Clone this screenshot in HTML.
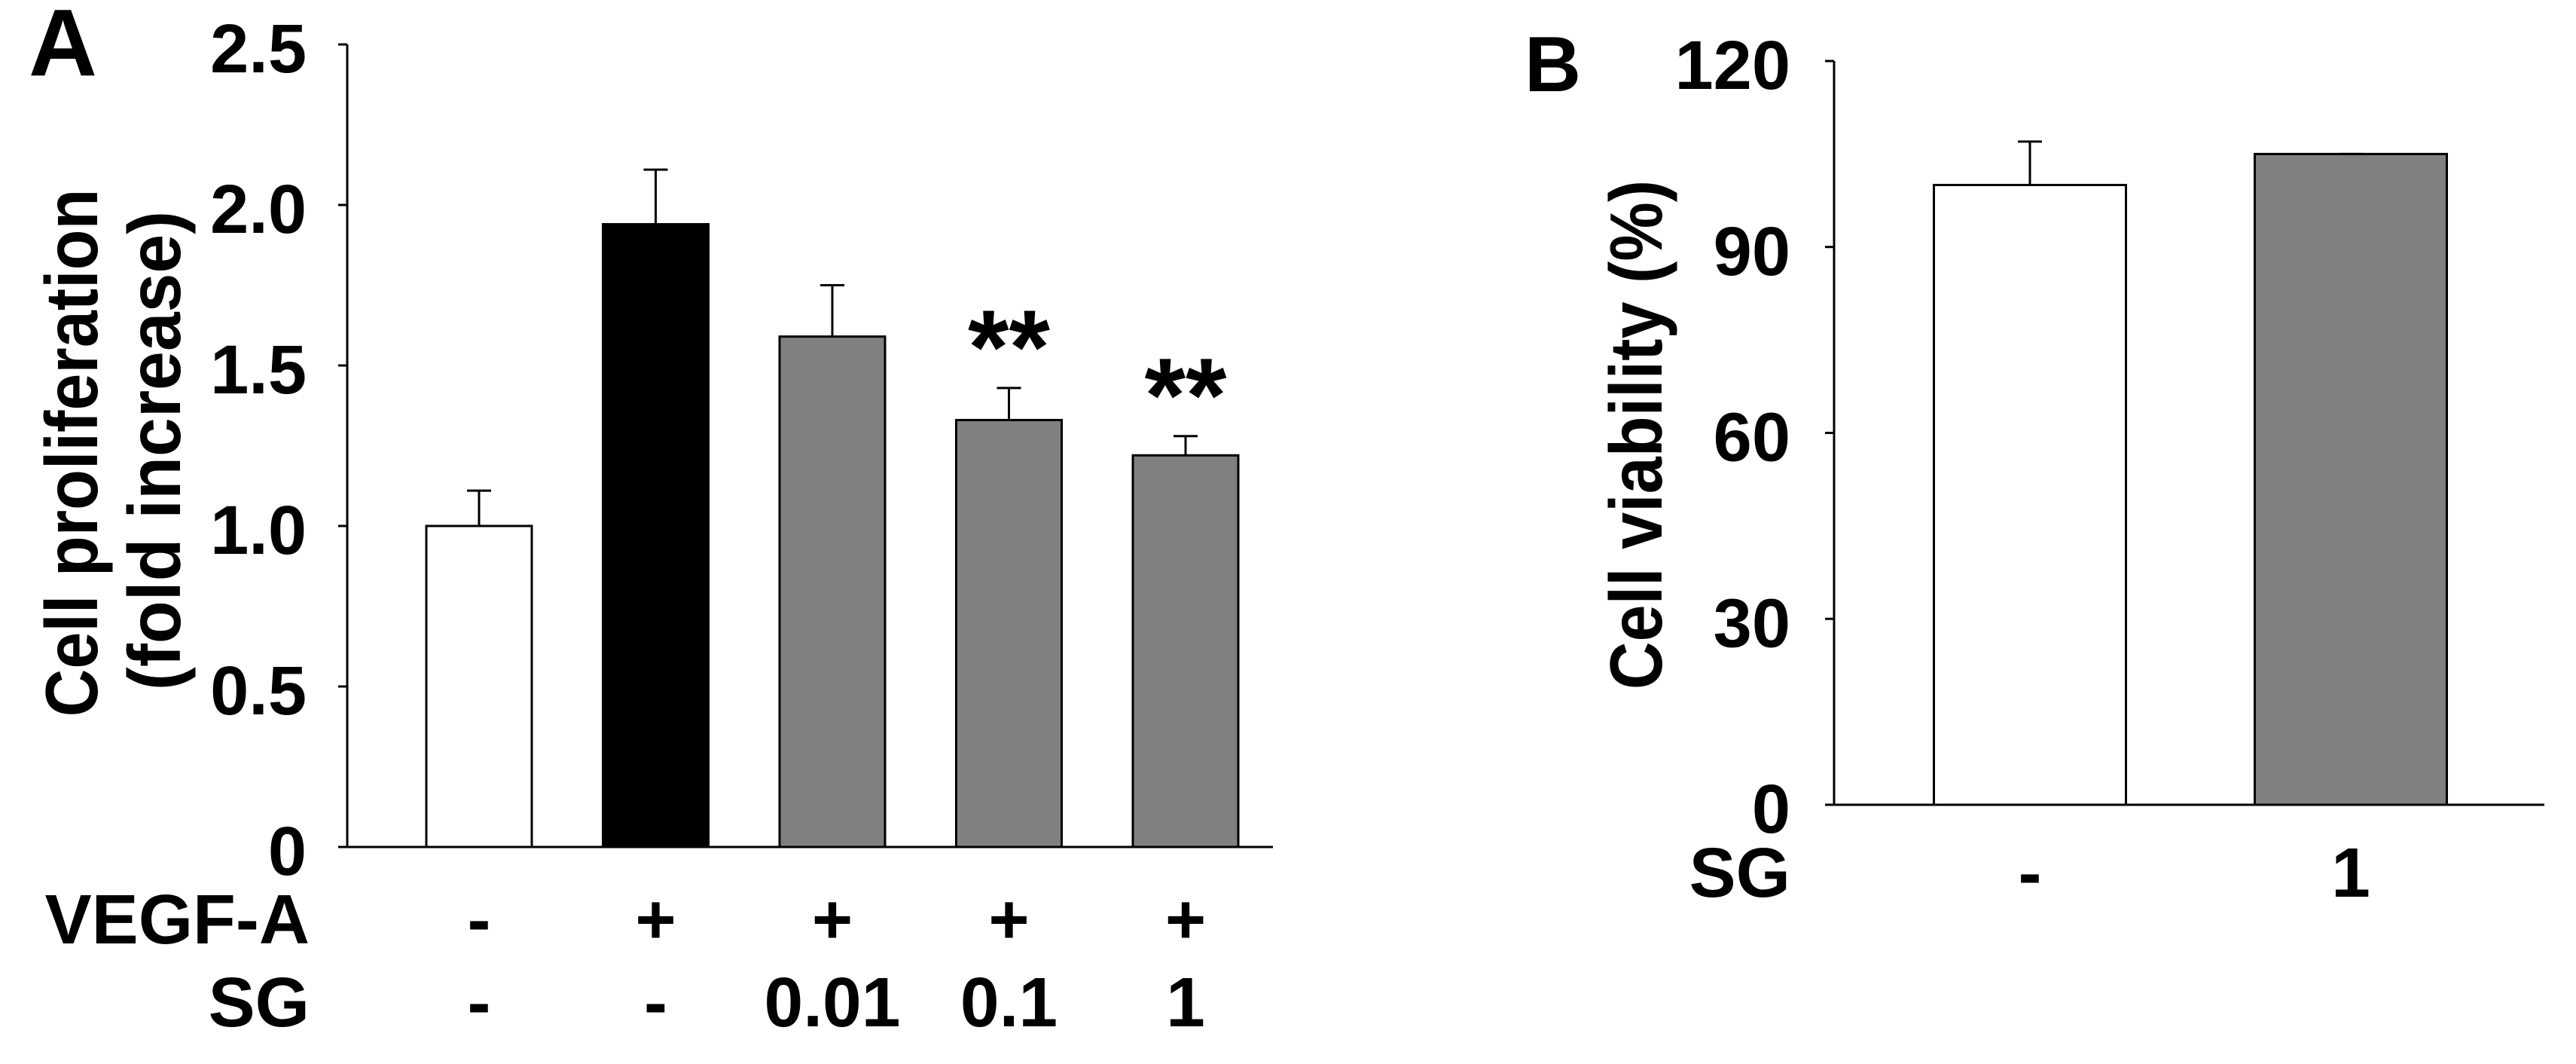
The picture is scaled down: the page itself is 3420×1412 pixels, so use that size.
<!DOCTYPE html>
<html><head><meta charset="utf-8"><style>
html,body{margin:0;padding:0;background:#fff}
svg{display:block;font-family:"Liberation Sans",Arial,sans-serif;font-weight:bold}
</style></head><body>
<svg id="fig" width="3420" height="1412" viewBox="0 0 3420 1412">
<text x="38" y="100" font-size="126">A</text>
<text x="2024" y="121" font-size="104">B</text>
<g>
<text transform="translate(129,601) rotate(-90) scale(0.9,1)" font-size="98" text-anchor="middle">Cell proliferation</text>
<text transform="translate(239,598) rotate(-90) scale(0.95,1)" font-size="98" text-anchor="middle">(fold increase)</text>
</g>
<text transform="translate(2206,577) rotate(-90) scale(0.9,1)" font-size="98" text-anchor="middle">Cell viability (%)</text>
<text x="411" y="1252" font-size="93" text-anchor="end">VEGF-A</text>
<text x="411" y="1362" font-size="93" text-anchor="end">SG</text>
<text x="2377" y="1190" font-size="93" text-anchor="end">SG</text>
<g id="ga"></g><g id="gb"></g>
</svg>
<script>
// Panel A data
const aValues = [1.0, 1.94, 1.59, 1.33, 1.22];
const aErrTop = [1.11, 2.11, 1.75, 1.43, 1.28];
const aFills = ["#ffffff", "#000000", "#808080", "#808080", "#808080"];
const aVegf = ["-", "+", "+", "+", "+"];
const aSg = ["-", "-", "0.01", "0.1", "1"];
const aStars = ["", "", "", "**", "**"];
const aTicks = [0, 0.5, 1.0, 1.5, 2.0, 2.5];
const aTickLabels = ["0", "0.5", "1.0", "1.5", "2.0", "2.5"];
// Panel B data
const bValues = [100, 105];
const bErrTop = [107, 105];
const bFills = ["#ffffff", "#808080"];
const bSg = ["-", "1"];
const bTicks = [0, 30, 60, 90, 120];
const bTickLabels = ["0", "30", "60", "90", "120"];

const NS = "http://www.w3.org/2000/svg";
function mk(parent, tag, attrs, txt) {
  const e = document.createElementNS(NS, tag);
  for (const k in attrs) e.setAttribute(k, attrs[k]);
  if (txt !== undefined) e.textContent = txt;
  parent.appendChild(e);
  return e;
}
function panel(g, cfg) {
  const y = v => cfg.y0 - (v - cfg.min) / (cfg.max - cfg.min) * (cfg.y0 - cfg.y1);
  const xc = i => cfg.firstCenter + i * cfg.step;
  let e = mk(g, "line", {x1: cfg.ax, x2: cfg.ax, y1: y(cfg.max), y2: cfg.y0, stroke: "#000", "stroke-width": 3});
  
  
  e = mk(g, "line", {x1: cfg.ax - 12, x2: cfg.xEnd, y1: cfg.y0, y2: cfg.y0, stroke: "#000", "stroke-width": 3});
  
  
  cfg.ticks.forEach((t, i) => {
    const tl = mk(g, "line", {x1: cfg.ax - 12, x2: cfg.ax, y1: y(t), y2: y(t), stroke: "#000", "stroke-width": 3});
    
    
    const tx = mk(g, "text", {x: cfg.labelRight, y: y(t) + 37, "font-size": 92, "text-anchor": "end"}, cfg.tickLabels[i]);
    
    
  });
  cfg.values.forEach((v, i) => {
    const cx = xc(i);
    const el = mk(g, "line", {x1: cx, x2: cx, y1: y(cfg.err[i]), y2: y(v), stroke: "#000", "stroke-width": 3});
    
    
    const cap = mk(g, "line", {x1: cx - 16, x2: cx + 16, y1: y(cfg.err[i]), y2: y(cfg.err[i]), stroke: "#000", "stroke-width": 3});
    
    
    const r = mk(g, "rect", {x: cx - cfg.bw / 2, y: y(v), width: cfg.bw, height: cfg.y0 - y(v), fill: cfg.fills[i], stroke: "#000", "stroke-width": 3});
    
    
    cfg.rows.forEach(row => {
      const t = mk(g, "text", {x: cx, y: row.y, "font-size": 93, "text-anchor": "middle"}, row.vals[i]);
      
      
    });
    if (cfg.stars && cfg.stars[i]) {
      const s = mk(g, "text", {x: cx, y: y(cfg.err[i]) - 6, "font-size": 140, "text-anchor": "middle"}, cfg.stars[i]);
      
      
    }
  });
}
panel(document.getElementById("ga"), {
  p: "a", y0: 1124, y1: 59, min: 0, max: 2.5, ax: 461, xEnd: 1690, labelRight: 407,
  firstCenter: 636, step: 234.5, bw: 140, values: aValues, err: aErrTop, fills: aFills,
  ticks: aTicks, tickLabels: aTickLabels, stars: aStars,
  rows: [{name: "vegf", y: 1252, vals: aVegf}, {name: "sg", y: 1362, vals: aSg}]
});
panel(document.getElementById("gb"), {
  p: "b", y0: 1068, y1: 81, min: 0, max: 120, ax: 2435, xEnd: 3378, labelRight: 2377,
  firstCenter: 2695, step: 426, bw: 255, values: bValues, err: bErrTop, fills: bFills,
  ticks: bTicks, tickLabels: bTickLabels, stars: null,
  rows: [{name: "sg", y: 1190, vals: bSg}]
});
</script>
</body></html>
